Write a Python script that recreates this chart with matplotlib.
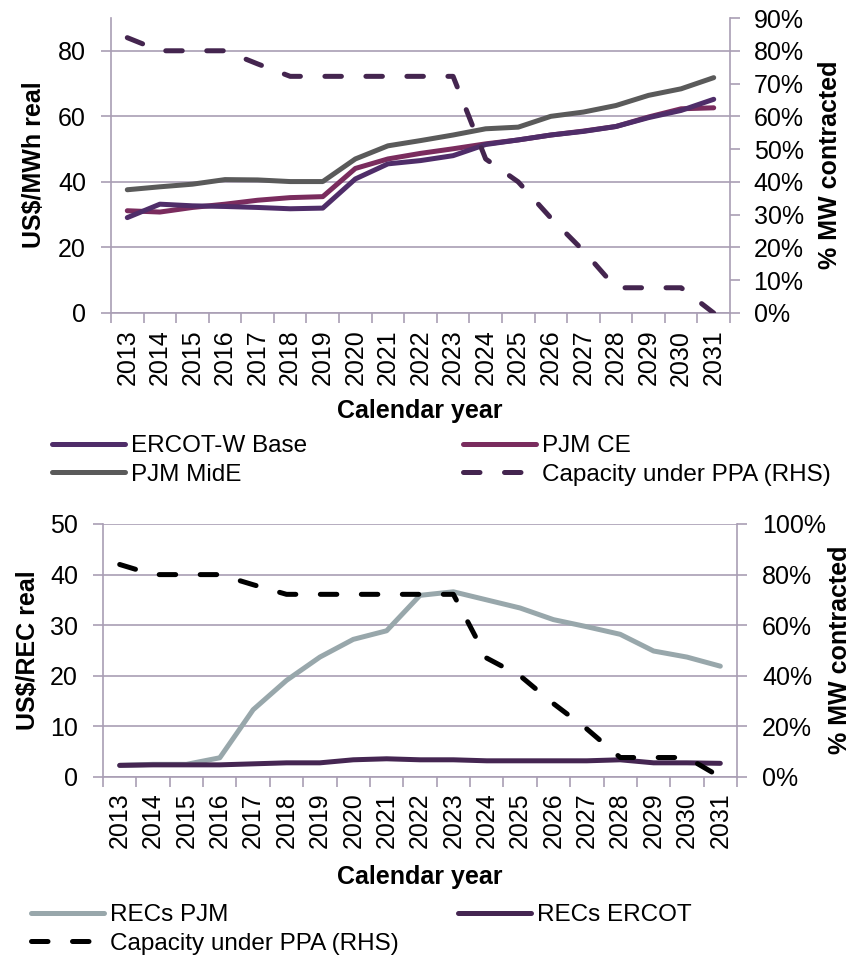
import matplotlib
matplotlib.use("Agg")
import matplotlib.pyplot as plt
from matplotlib.ticker import PercentFormatter, FixedLocator, MultipleLocator

plt.rcParams['font.family'] = ['Liberation Sans', 'DejaVu Sans']

years = ['2013', '2014', '2015', '2016', '2017', '2018', '2019', '2020', '2021', '2022',
         '2023', '2024', '2025', '2026', '2027', '2028', '2029', '2030', '2031']

ercot_w_base = [29.1, 33.2, 32.7, 32.5, 32.2, 31.8, 32.0, 40.9, 45.5, 46.5,
                48.0, 51.4, 52.8, 54.3, 55.4, 56.9, 59.6, 61.8, 65.2]
pjm_ce = [31.2, 30.8, 32.2, 33.2, 34.4, 35.2, 35.5, 44.1, 47.0, 48.7,
          50.1, 51.6, 52.8, 54.3, 55.5, 56.9, 59.8, 62.3, 62.6]
pjm_mide = [37.6, 38.5, 39.3, 40.7, 40.6, 40.1, 40.1, 47.0, 51.0, 52.6,
            54.3, 56.2, 56.7, 60.0, 61.3, 63.3, 66.4, 68.4, 71.8]
capacity_ppa = [0.84, 0.80, 0.80, 0.80, 0.76, 0.722, 0.722, 0.722, 0.722, 0.722,
                0.722, 0.47, 0.40, 0.29, 0.19, 0.077, 0.077, 0.077, 0.0]

recs_pjm = [2.3, 2.5, 2.5, 3.8, 13.3, 19.1, 23.7, 27.2, 28.9, 35.9,
            36.6, 35.0, 33.4, 31.1, 29.7, 28.2, 24.9, 23.7, 21.9]
recs_ercot = [2.3, 2.4, 2.4, 2.4, 2.6, 2.8, 2.8, 3.4, 3.6, 3.4,
              3.4, 3.2, 3.2, 3.2, 3.2, 3.4, 2.8, 2.8, 2.7]

W, H = 861, 960
fig = plt.figure(figsize=(W / 100, H / 100), dpi=100)

FS = 18
FS_LEG = 17.5
GRID = '#A99EB4'
LW = 3.6
DASH = (3.3, 4.9)

C_ERCOT = '#4F2D69'
C_PJMCE = '#7A2C5E'
C_MIDE = '#5A5A5A'
C_CAP1 = '#44254F'
C_RECPJM = '#98A7AB'
C_RECERCOT = '#452652'
C_CAP2 = '#000000'


def px_axes(left, right, top, bottom):
    return fig.add_axes([left / W, 1 - bottom / H, (right - left) / W, (bottom - top) / H])


def style_axes(ax, ax2, ymax, ystep, rmax, rstep, xpad, lpad, rpad):
    n = len(years)
    x = list(range(n))
    ax.set_xlim(-0.5, n - 0.5)
    ax.set_ylim(0, ymax)
    ax.yaxis.set_major_locator(MultipleLocator(ystep))
    ax2.set_ylim(0, rmax)
    ax2.yaxis.set_major_locator(MultipleLocator(rstep))
    ax2.yaxis.set_major_formatter(PercentFormatter(1.0, decimals=0))
    ax.set_xticks(x)
    ax.set_xticklabels(years, rotation=90, fontsize=FS)
    ax.xaxis.set_minor_locator(FixedLocator([i - 0.5 for i in range(n + 1)]))
    ax.tick_params(axis='x', which='major', length=0, pad=xpad + 5)
    ax.tick_params(axis='x', which='minor', length=7, width=1.2, color=GRID, direction='out')
    ax.tick_params(axis='y', which='major', length=7, width=1.2, color=GRID, direction='out',
                   labelsize=FS, pad=lpad)
    ax2.tick_params(axis='y', which='major', length=7, width=1.2, color=GRID, direction='out',
                    labelsize=FS, pad=rpad)
    ax.grid(axis='y', color=GRID, linewidth=1.2)
    ax.set_axisbelow(True)
    for s in ['top', 'right']:
        ax.spines[s].set_visible(False)
    for s in ['left', 'bottom']:
        ax.spines[s].set_color(GRID)
        ax.spines[s].set_linewidth(1.2)
    for s in ['top', 'left', 'bottom']:
        ax2.spines[s].set_visible(False)
    ax2.spines['right'].set_color(GRID)
    ax2.spines['right'].set_linewidth(1.2)
    return x


leg_kw = dict(frameon=False, fontsize=FS_LEG, handlelength=3.0, handletextpad=0.25,
              labelspacing=0.27, borderpad=0, borderaxespad=0, loc='upper left')

# ---------------- Top chart ----------------
ax1 = px_axes(111, 730, 18, 313)
ax1r = ax1.twinx()
x = style_axes(ax1, ax1r, 90, 20, 0.9, 0.1, xpad=7, lpad=11, rpad=10)
ax1.yaxis.set_major_locator(FixedLocator([0, 20, 40, 60, 80]))

l_ercot, = ax1.plot(x, ercot_w_base, color=C_ERCOT, lw=LW, solid_capstyle='round', label='ERCOT-W Base')
l_ce, = ax1.plot(x, pjm_ce, color=C_PJMCE, lw=LW, solid_capstyle='round', label='PJM CE')
l_mide, = ax1.plot(x, pjm_mide, color=C_MIDE, lw=LW, solid_capstyle='round', label='PJM MidE')
l_ercot.set_zorder(3)
l_cap1, = ax1r.plot(x, capacity_ppa, color=C_CAP1, lw=LW, dashes=DASH,
                    dash_capstyle='round', label='Capacity under PPA (RHS)')

fig.text(34 / W, 1 - 165 / H, 'US\\$/MWh real', rotation=90, ha='center', va='center',
         fontsize=FS, fontweight='bold')
fig.text(830 / W, 1 - 165 / H, '% MW contracted', rotation=90, ha='center', va='center',
         fontsize=FS, fontweight='bold')
fig.text(420 / W, 1 - 411 / H, 'Calendar year', ha='center', va='center',
         fontsize=FS, fontweight='bold')

fig.legend([l_ercot, l_mide], ['ERCOT-W Base', 'PJM MidE'],
           bbox_to_anchor=(52 / W, 1 - 435 / H), **leg_kw)
fig.legend([l_ce, l_cap1], ['PJM CE', 'Capacity under PPA (RHS)'],
           bbox_to_anchor=(463 / W, 1 - 435 / H), **leg_kw)

# ---------------- Bottom chart ----------------
ax2 = px_axes(103, 737, 524, 777)
ax2r = ax2.twinx()
x = style_axes(ax2, ax2r, 50, 10, 1.0, 0.2, xpad=6, lpad=11, rpad=11)

l_rpjm, = ax2.plot(x, recs_pjm, color=C_RECPJM, lw=LW, solid_capstyle='round', label='RECs PJM')
l_rercot, = ax2.plot(x, recs_ercot, color=C_RECERCOT, lw=LW, solid_capstyle='round', label='RECs ERCOT')
l_cap2, = ax2r.plot(x, capacity_ppa, color=C_CAP2, lw=LW, dashes=DASH,
                    dash_capstyle='round', label='Capacity under PPA (RHS)')

fig.text(28 / W, 1 - 650 / H, 'US\\$/REC real', rotation=90, ha='center', va='center',
         fontsize=FS, fontweight='bold')
fig.text(840 / W, 1 - 650 / H, '% MW contracted', rotation=90, ha='center', va='center',
         fontsize=FS, fontweight='bold')
fig.text(420 / W, 1 - 877 / H, 'Calendar year', ha='center', va='center',
         fontsize=FS, fontweight='bold')

fig.legend([l_rpjm, l_cap2], ['RECs PJM', 'Capacity under PPA (RHS)'],
           bbox_to_anchor=(31 / W, 1 - 904 / H), **leg_kw)
fig.legend([l_rercot], ['RECs ERCOT'],
           bbox_to_anchor=(458 / W, 1 - 904 / H), **leg_kw)

fig.savefig('out.png', dpi=100)
